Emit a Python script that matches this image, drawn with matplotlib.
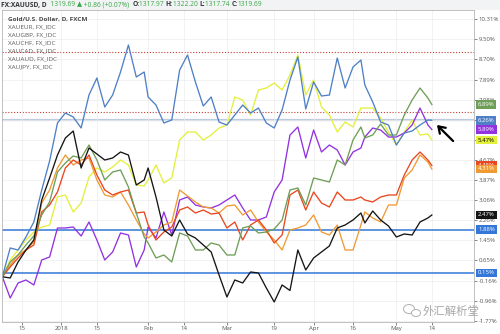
import numpy as np
import pandas as pd
import matplotlib
matplotlib.use("Agg")
import matplotlib.pyplot as plt
from matplotlib.transforms import blended_transform_factory
from matplotlib.patches import Ellipse, Rectangle

# trading-day calendar of the chart (weekends, Christmas and New Year dropped)
days = pd.bdate_range("2017-12-08", "2018-05-14")
days = days[~days.isin(pd.to_datetime(["2017-12-25", "2018-01-01"]))]

# bar index of each sampled value
bar = [0, 2, 4, 6, 8, 10, 12, 14, 16, 18, 20, 22, 24, 26, 28, 30, 32, 34, 36,
       37, 39, 41, 43, 45, 47, 49, 51, 53, 55, 57, 59, 61, 63, 65, 67, 69, 71,
       73, 75, 77, 79, 81, 83, 85, 87, 89, 91, 92, 94, 96, 98, 100, 102, 104,
       106, 108, 109]

# % change since first bar
xauusd = [0.00, 1.15, 1.07, 1.59, 2.19, 3.47, 4.63, 6.15, 6.55, 6.39, 5.95, 7.27, 7.95, 6.79, 7.27, 8.19, 9.27, 7.99, 8.19,
          7.19, 6.87, 6.15, 6.27, 8.27, 8.87, 7.79, 6.83, 7.19, 6.19, 6.07, 6.47, 6.87, 6.55, 6.75, 6.15, 5.95, 6.67, 7.87,
          8.79, 6.71, 7.79, 7.23, 7.27, 8.75, 7.55, 8.39, 8.67, 7.67, 6.99, 6.19, 6.07, 5.27, 5.75, 5.83, 6.07, 6.27, 6.26]
xaueur = [0.00, 0.39, 0.75, 1.07, 1.27, 2.59, 2.87, 3.39, 4.35, 4.67, 4.47, 4.87, 4.07, 3.47, 3.27, 3.39, 3.47, 2.55, 2.59,
          2.07, 1.47, 1.79, 1.99, 2.67, 2.79, 2.55, 2.67, 2.51, 2.55, 1.95, 2.19, 1.47, 2.07, 2.27, 1.87, 1.35, 1.67, 3.27,
          3.47, 2.67, 3.39, 2.95, 2.79, 3.39, 3.07, 3.07, 3.19, 3.07, 2.99, 3.19, 3.27, 3.27, 4.07, 4.67, 4.99, 4.67, 4.45]
xaugbp = [0.00, 0.47, 0.87, 1.07, 1.39, 2.95, 3.47, 4.35, 4.87, 4.47, 4.67, 4.75, 3.87, 3.27, 3.19, 3.39, 2.87, 2.27, 1.71,
          1.55, 1.79, 2.07, 2.19, 3.47, 3.23, 2.99, 2.79, 2.75, 2.55, 2.83, 2.87, 2.47, 2.67, 2.19, 1.79, 1.47, 1.07, 1.87,
          1.95, 2.07, 2.47, 1.79, 1.67, 2.07, 1.07, 1.07, 2.07, 2.59, 2.35, 2.19, 2.87, 2.87, 3.95, 4.27, 4.87, 4.59, 4.31]
xauchf = [0.00, 0.59, 0.87, 1.27, 1.63, 2.47, 2.99, 4.19, 4.55, 4.83, 4.75, 5.27, 4.67, 3.87, 4.19, 4.27, 3.59, 2.55, 1.59,
          1.35, 0.75, 0.87, 0.59, 1.75, 1.63, 1.07, 1.07, 1.35, 1.27, 0.87, 0.87, 1.95, 2.03, 1.75, 1.79, 1.91, 2.27, 3.47,
          3.55, 2.87, 3.95, 3.87, 3.79, 4.67, 4.47, 5.47, 5.99, 5.55, 5.67, 6.11, 5.67, 5.67, 6.47, 7.07, 7.55, 7.15, 6.89]
xaucad = [0.00, -0.85, -0.25, -0.13, -0.33, 0.67, 0.79, 1.95, 1.95, 1.99, 1.63, 2.19, 1.47, 0.67, 0.99, 1.75, 1.67, 0.39, 1.07,
          1.99, 1.55, 2.59, 1.67, 3.07, 3.19, 2.87, 2.79, 2.75, 2.87, 3.07, 3.27, 2.75, 2.27, 2.27, 2.39, 3.39, 3.87, 5.67,
          5.99, 4.75, 5.87, 4.99, 5.27, 5.07, 4.47, 4.99, 5.15, 5.59, 5.95, 5.87, 5.59, 5.59, 5.75, 6.07, 6.75, 6.07, 5.89]
xauaud = [0.00, 0.67, 1.07, 1.47, 1.79, 1.99, 2.07, 3.19, 3.27, 2.59, 2.95, 3.99, 4.35, 4.19, 4.39, 4.67, 4.47, 3.67, 3.63,
          3.87, 4.47, 3.75, 3.95, 5.47, 5.79, 5.79, 5.47, 5.67, 5.95, 6.07, 7.19, 7.07, 6.47, 7.47, 7.55, 7.75, 7.47, 8.07,
          8.87, 7.27, 7.87, 6.79, 6.47, 5.79, 6.19, 5.99, 6.75, 6.75, 6.75, 6.35, 5.79, 5.27, 5.79, 6.27, 5.67, 5.71, 5.47]
xaujpy = [0.00, -0.05, 0.59, 1.07, 1.47, 3.07, 3.95, 4.87, 5.55, 5.83, 4.35, 5.15, 4.91, 4.67, 4.75, 4.99, 4.87, 3.67, 3.87,
          4.35, 3.19, 1.87, 1.63, 2.27, 1.71, 1.55, 1.27, 0.99, 0.07, -0.81, -0.13, -0.25, 0.19, 0.15, -0.45, -1.01, -0.33,
          -0.55, 1.07, 0.27, 0.75, 0.99, 1.23, 1.95, 2.07, 2.27, 2.55, 2.15, 2.63, 2.27, 2.03, 1.59, 1.71, 1.67, 2.19, 2.35, 2.47]

legend_names = ["Gold/U.S. Dollar, D, FXCM", "XAUEUR, FX_IDC", "XAUGBP, FX_IDC", "XAUCHF, FX_IDC",
                "XAUCAD, FX_IDC", "XAUAUD, FX_IDC", "XAUJPY, FX_IDC"]
tick_dates = ["2017-12-15", "2018-01-02", "2018-01-15", "2018-02-01", "2018-02-14", "2018-03-01",
              "2018-03-19", "2018-04-02", "2018-04-16", "2018-05-01", "2018-05-14"]
tick_text = ["15", "2018", "15", "Feb", "14", "Mar", "19", "Apr", "16", "May", "14"]
ytick_vals = [10.31, 9.50, 8.70, 7.89, 7.08, 6.28, 5.47, 4.67, 3.87, 3.06, 2.26, 1.45, 0.65, -0.16, -0.96, -1.77]
red_levels = [8.99, 6.59]
blue_levels = [1.88, 0.15]

c_usd, c_eur, c_gbp, c_chf = "#4f80c6", "#e8471f", "#f09a34", "#6f9e58"
c_cad, c_aud, c_jpy = "#9232e0", "#e3f03c", "#151515"
c_lvl = "#3477d8"

plt.rcParams["font.family"] = ["Open Sans", "DejaVu Sans"]
fig = plt.figure(figsize=(5, 3.34), dpi=100)
fig.patch.set_facecolor("white")
fig.patches.append(Rectangle((0, 1 - 10 / 334), 1, 10 / 334, transform=fig.transFigure,
                             facecolor="#f1f3f5", edgecolor="none", zorder=0))

ax = fig.add_axes([0.004, 0.036, 0.944, 0.934])
ax.set_xlim(-0.08, 119.7)
ax.set_ylim(-1.81, 10.67)

pos = days.get_indexer(pd.to_datetime(tick_dates))
ax.set_xticks(pos)
ax.set_xticklabels(tick_text)
ax.set_yticks(ytick_vals)
ax.set_yticklabels(["%.2f%%" % v for v in ytick_vals])
ax.yaxis.tick_right()
ax.tick_params(axis="both", labelsize=4.3, colors="#555555", length=2, width=0.5, pad=1.5)
ax.tick_params(axis="x", pad=1)
ax.grid(True, color="#ededed", lw=0.5)
for s in ax.spines.values():
    s.set_color("#b5b5b5")
    s.set_linewidth(0.6)

for lv in red_levels:
    ax.axhline(lv, color="#c23a32", lw=0.8, ls=(0, (1, 1.6)), zorder=1.5)
ax.axhline(xauusd[-1], color="#bccbdd", lw=1.6, zorder=1.4)
for lv in blue_levels:
    ax.axhline(lv, color=c_lvl, lw=1.1, zorder=1.6)

series = [(xauaud, c_aud), (xaucad, c_cad), (xaugbp, c_gbp), (xaueur, c_eur),
          (xauchf, c_chf), (xaujpy, c_jpy), (xauusd, c_usd)]
for vals, col in series:
    ax.plot(bar, vals, color=col, lw=0.95, zorder=2)

# legend text, top left
for i, name in enumerate(legend_names):
    ax.text(6 / 472, 1 - (9 + 8 * i) / 312, name, transform=ax.transAxes, fontsize=4.6,
            color="#4a4a4a" if i == 0 else "#5a5a5a", fontweight="bold" if i == 0 else "normal",
            va="center", ha="left", zorder=4)

# last value boxes on the price scale
tr = blended_transform_factory(ax.transAxes, ax.transData)
boxes = [(xauchf[-1], c_chf, "white"), (xauusd[-1], c_usd, "white"), (xaucad[-1], c_cad, "white"),
         (xauaud[-1], c_aud, "black"), (xaueur[-1], c_eur, "white"), (xaugbp[-1], c_gbp, "white"),
         (xaujpy[-1], c_jpy, "white"), (blue_levels[0], c_lvl, "white"), (blue_levels[1], c_lvl, "white")]
for v, fc, tc in boxes:
    ax.text(1.0085, v, "%.2f%%" % v, transform=tr, fontsize=4.3, color=tc, va="center", ha="left",
            clip_on=False, zorder=5,
            bbox=dict(boxstyle="square,pad=0.3", facecolor=fc, edgecolor="none"))

# arrow pointing at the last values
ax.annotate("", xy=(109.8, 6.15), xytext=(114.9, 5.35),
            arrowprops=dict(arrowstyle="->,head_length=0.45,head_width=0.3", color="black", lw=1.6),
            zorder=6)

# header line
fig.canvas.draw()
rend = fig.canvas.get_renderer()
parts = [("FX:XAUUSD, D", "#333333", "bold"), ("  1319.69 ", "#3aa845", "normal"), ("▲", "#3aa845", "normal"),
         (" +0.86 (+0.07%)  ", "#3aa845", "normal"), ("O:", "#333333", "bold"), ("1317.97 ", "#3aa845", "normal"),
         ("H:", "#333333", "bold"), ("1322.20 ", "#3aa845", "normal"), ("L:", "#333333", "bold"),
         ("1317.74 ", "#3aa845", "normal"), ("C:", "#333333", "bold"), ("1319.69", "#3aa845", "normal")]
xpix = 1.0
for txt, col, fw in parts:
    t = fig.text(xpix / 500, 1 - 5 / 334, txt, fontsize=4.8, color=col, fontweight=fw,
                 va="center", ha="left", family=["Open Sans", "DejaVu Sans"])
    xpix += t.get_window_extent(rend).width

# watermark
fig.text(423 / 500, 1 - 311 / 334, "外汇解析堂", fontsize=8.2, color="#a8a8a8",
         va="center", ha="left", family=["Noto Sans CJK SC", "DejaVu Sans"], zorder=7)
fig.patches.append(Ellipse((409 / 500, 1 - 309 / 334), 11 / 500, 9 / 334, transform=fig.transFigure,
                           facecolor="none", edgecolor="#b0b0b0", lw=0.7, zorder=7))
fig.patches.append(Ellipse((416 / 500, 1 - 313 / 334), 9 / 500, 7 / 334, transform=fig.transFigure,
                           facecolor="white", edgecolor="#b0b0b0", lw=0.7, zorder=7))

fig.savefig("out.png", dpi=100)
